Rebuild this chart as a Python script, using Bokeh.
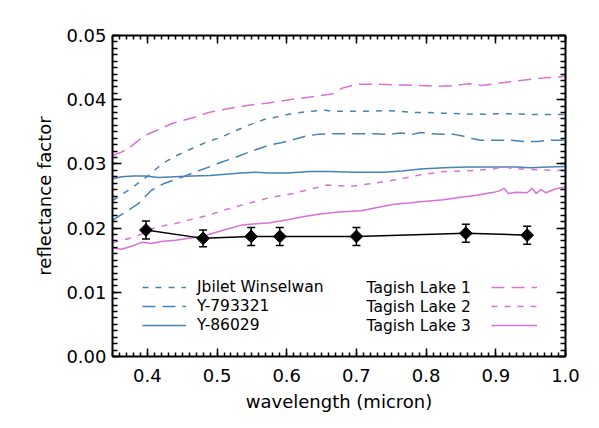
import numpy as np
from bokeh.plotting import figure
from bokeh.models import (Range1d, LinearAxis, SingleIntervalTicker, NumeralTickFormatter,
                          Legend, LegendItem, Label, Whisker, ColumnDataSource, TeeHead,
                          CustomLabelingPolicy)
from bokeh.embed import file_html
from bokeh.resources import INLINE

# ---------------- data ----------------
jw_wl = [0.35, 0.373, 0.402, 0.421, 0.44, 0.464, 0.485, 0.507, 0.525, 0.545, 0.567, 0.59, 0.61,
         0.635, 0.653, 0.665, 0.68, 0.696, 0.72, 0.744, 0.76, 0.787, 0.80, 0.825, 0.85, 0.873,
         0.90, 0.921, 0.95, 0.975, 1.0]
jw_rf = [0.0243, 0.0259, 0.0282, 0.0300, 0.0312, 0.0324, 0.0334, 0.0342, 0.0351, 0.0360, 0.0369,
         0.0374, 0.0379, 0.0382, 0.0384, 0.0382, 0.0382, 0.0382, 0.0382, 0.0383, 0.0382, 0.0380,
         0.0380, 0.0379, 0.0378, 0.0377, 0.0378, 0.0378, 0.0377, 0.0377, 0.0377]

y79_wl = [0.35, 0.37, 0.387, 0.406, 0.423, 0.449, 0.47, 0.488, 0.507, 0.526, 0.55, 0.574, 0.592,
          0.61, 0.627, 0.644, 0.665, 0.685, 0.706, 0.725, 0.745, 0.763, 0.78, 0.792, 0.808, 0.825,
          0.84, 0.854, 0.868, 0.878, 0.90, 0.921, 0.94, 0.96, 0.98, 1.0]
y79_rf = [0.0212, 0.0226, 0.0238, 0.0259, 0.0269, 0.0279, 0.0288, 0.0295, 0.0303, 0.0310, 0.0320,
          0.0329, 0.0333, 0.0338, 0.0343, 0.0346, 0.0347, 0.0347, 0.0347, 0.0347, 0.0346, 0.0348,
          0.0346, 0.0349, 0.0347, 0.0346, 0.0346, 0.0343, 0.0339, 0.0337, 0.0337, 0.0337, 0.0335,
          0.0335, 0.0337, 0.0337]

y86_wl = [0.35, 0.363, 0.38, 0.397, 0.416, 0.44, 0.464, 0.49, 0.512, 0.535, 0.555, 0.574, 0.601,
          0.634, 0.66, 0.696, 0.72, 0.739, 0.765, 0.792, 0.825, 0.86, 0.897, 0.93, 0.95, 0.975, 1.0]
y86_rf = [0.0277, 0.0280, 0.0281, 0.0281, 0.0279, 0.0280, 0.0281, 0.0282, 0.0284, 0.0286, 0.0287,
          0.0286, 0.0286, 0.0288, 0.0288, 0.0287, 0.0287, 0.0287, 0.0289, 0.0292, 0.0294, 0.0295,
          0.0295, 0.0295, 0.0294, 0.0295, 0.0296]

tl1_wl = [0.35, 0.362, 0.373, 0.39, 0.402, 0.42, 0.435, 0.452, 0.469, 0.488, 0.505, 0.526, 0.55,
          0.574, 0.61, 0.64, 0.665, 0.672, 0.68, 0.69, 0.701, 0.73, 0.754, 0.792, 0.816, 0.84,
          0.861, 0.88, 0.90, 0.921, 0.945, 0.969, 1.0]
tl1_rf = [0.0313, 0.0318, 0.0324, 0.0339, 0.0347, 0.0355, 0.0363, 0.0368, 0.0373, 0.0380, 0.0384,
          0.0388, 0.0392, 0.0395, 0.0401, 0.0405, 0.0409, 0.0413, 0.0418, 0.0421, 0.0424, 0.0424,
          0.0423, 0.0422, 0.0421, 0.0422, 0.0425, 0.0422, 0.0425, 0.0428, 0.0431, 0.0434, 0.0436]

tl2_wl = [0.35, 0.363, 0.378, 0.392, 0.406, 0.42, 0.44, 0.465, 0.488, 0.507, 0.526, 0.55, 0.574,
          0.61, 0.635, 0.658, 0.675, 0.692, 0.72, 0.744, 0.77, 0.792, 0.825, 0.85, 0.873, 0.895,
          0.914, 0.925, 0.94, 0.96, 0.98, 1.0]
tl2_rf = [0.0177, 0.0181, 0.0185, 0.0191, 0.0199, 0.0203, 0.0207, 0.0214, 0.0220, 0.0227, 0.0233,
          0.0240, 0.0247, 0.0254, 0.0261, 0.0267, 0.0266, 0.0265, 0.0269, 0.0273, 0.0278, 0.0283,
          0.0288, 0.0289, 0.0290, 0.0292, 0.0296, 0.0292, 0.0292, 0.0291, 0.0290, 0.0290]

tl3_wl = [0.35, 0.363, 0.378, 0.392, 0.406, 0.42, 0.44, 0.465, 0.488, 0.51, 0.536, 0.56, 0.574,
          0.601, 0.625, 0.648, 0.675, 0.706, 0.73, 0.754, 0.775, 0.792, 0.825, 0.85, 0.873, 0.892,
          0.898, 0.905, 0.912, 0.918, 0.93, 0.945, 0.952, 0.958, 0.965, 0.972, 0.985, 1.0]
tl3_rf = [0.0169, 0.0167, 0.0172, 0.0178, 0.0176, 0.0179, 0.0181, 0.0185, 0.0190, 0.0197, 0.0205,
          0.0207, 0.0208, 0.0213, 0.0218, 0.0222, 0.0225, 0.0227, 0.0232, 0.0237, 0.0239, 0.0241,
          0.0244, 0.0248, 0.0251, 0.0255, 0.0256, 0.0258, 0.0262, 0.0254, 0.0256, 0.0255, 0.0262,
          0.0254, 0.0260, 0.0255, 0.0261, 0.0264]

spec_wl = [0.398, 0.480, 0.549, 0.590, 0.700, 0.857, 0.945]
spec_rf = [0.0197, 0.0184, 0.0187, 0.0187, 0.0187, 0.0192, 0.0189]
spec_err = [0.0014, 0.0013, 0.0014, 0.0014, 0.0014, 0.0014, 0.0014]

x_ticks_interval = 0.1
y_ticks_interval = 0.01

BLUE = "#4682B4"
ORCHID = "#DA70D6"
FONT = "DejaVu Sans"

# ---------------- figure ----------------
p = figure(frame_width=453, frame_height=321, output_backend="svg", toolbar_location=None,
           x_range=Range1d(0.35, 1.0), y_range=Range1d(0.0, 0.05),
           min_border_left=112, min_border_right=30, min_border_top=35, min_border_bottom=68,
           x_axis_type=None, y_axis_type=None)
p.outline_line_color = None
p.background_fill_color = "white"
p.border_fill_color = "white"

def make_axis(kind, loc, labels):
    if kind == "x":
        ticker = SingleIntervalTicker(interval=x_ticks_interval, num_minor_ticks=10)
        fmt = NumeralTickFormatter(format="0.0")
        tin, min_in = 8, 4
    else:
        ticker = SingleIntervalTicker(interval=y_ticks_interval, num_minor_ticks=10)
        fmt = NumeralTickFormatter(format="0.00")
        tin, min_in = 9, 5
    ax = LinearAxis(ticker=ticker, formatter=fmt)
    ax.major_tick_in = tin
    ax.major_tick_out = 0
    ax.minor_tick_in = min_in
    ax.minor_tick_out = 0
    ax.axis_line_width = 2
    ax.major_tick_line_width = 1.5
    ax.minor_tick_line_width = 1.5
    ax.axis_line_color = "black"
    ax.major_tick_line_color = "black"
    ax.minor_tick_line_color = "black"
    if labels:
        ax.major_label_text_font = FONT
        ax.major_label_text_font_size = "18px"
        ax.major_label_text_color = "black"
        ax.axis_label_text_font = FONT
        ax.axis_label_text_font_size = "18px"
        ax.axis_label_text_font_style = "normal"
        ax.axis_label_text_color = "black"
    else:
        ax.major_label_policy = CustomLabelingPolicy(code="return new Set()")
        ax.major_label_standoff = 0
    p.add_layout(ax, loc)
    return ax

xb = make_axis("x", "below", True)
xb.axis_label = "wavelength (micron)"
xb.major_label_standoff = 12
xb.axis_label_standoff = 6
yl = make_axis("y", "left", True)
yl.axis_label = "reflectance factor"
yl.major_label_standoff = 6
yl.axis_label_standoff = 8
make_axis("x", "above", False)
make_axis("y", "right", False)

lw = 1.5
r_jw = p.line(jw_wl, jw_rf, line_color=BLUE, line_width=lw, line_dash="6 7")
r_y79 = p.line(y79_wl, y79_rf, line_color=BLUE, line_width=lw, line_dash="13 7")
r_y86 = p.line(y86_wl, y86_rf, line_color=BLUE, line_width=lw)
r_tl1 = p.line(tl1_wl, tl1_rf, line_color=ORCHID, line_width=lw, line_dash="13 7")
r_tl2 = p.line(tl2_wl, tl2_rf, line_color=ORCHID, line_width=lw, line_dash="6 7")
r_tl3 = p.line(tl3_wl, tl3_rf, line_color=ORCHID, line_width=lw)

# measured points with error bars
src = ColumnDataSource(dict(x=spec_wl, y=spec_rf,
                            lo=[a - b for a, b in zip(spec_rf, spec_err)],
                            hi=[a + b for a, b in zip(spec_rf, spec_err)]))
p.line("x", "y", source=src, line_color="black", line_width=1.5)
wh = Whisker(base="x", lower="lo", upper="hi", source=src, line_color="black", line_width=1.5,
             upper_head=TeeHead(size=8, line_color="black", line_width=1.5),
             lower_head=TeeHead(size=8, line_color="black", line_width=1.5))
p.add_layout(wh)
p.scatter("x", "y", source=src, marker="square", angle=np.pi / 4, size=9,
          fill_color="black", line_color="black")

# legends
def style_legend(lg):
    lg.border_line_color = None
    lg.background_fill_alpha = 0
    lg.padding = 0
    lg.margin = 0
    lg.spacing = 1
    lg.label_height = 18
    lg.glyph_height = 18
    lg.label_text_font = FONT
    lg.label_text_font_size = "15.5px"
    lg.label_text_color = "black"

leg1 = Legend(items=[LegendItem(label="Jbilet Winselwan", renderers=[r_jw]),
                     LegendItem(label="Y-793321", renderers=[r_y79]),
                     LegendItem(label="Y-86029", renderers=[r_y86])],
              location=(30, 22), glyph_width=44, label_standoff=11)
style_legend(leg1)
p.add_layout(leg1)

leg2 = Legend(items=[LegendItem(label="Tagish Lake 1", renderers=[r_tl1]),
                     LegendItem(label="Tagish Lake 2", renderers=[r_tl2]),
                     LegendItem(label="Tagish Lake 3", renderers=[r_tl3])],
              location=(379, 22), glyph_width=46, label_standoff=0)
style_legend(leg2)
leg2.label_text_alpha = 0
leg2.label_text_font_size = "1px"
p.add_layout(leg2)

for i, name in enumerate(["Tagish Lake 1", "Tagish Lake 2", "Tagish Lake 3"]):
    p.add_layout(Label(x=254, y=69 - 19 * i, x_units="screen", y_units="screen", text=name,
                       text_font=FONT, text_font_size="15.5px", text_color="black",
                       text_baseline="middle", text_align="left"))

open("out.html", "w").write(file_html(p, INLINE))
